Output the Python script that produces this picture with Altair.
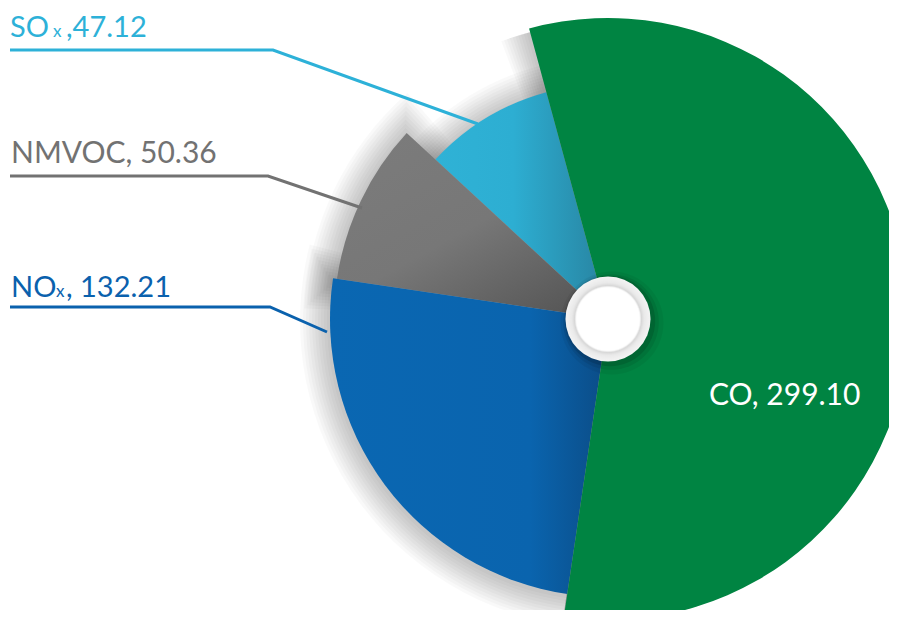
import math
import altair as alt
import pandas as pd

# ---------------- data ----------------
categories = ["CO", "NOx", "NMVOC", "SOx"]
values = [299.10, 132.21, 50.36, 47.12]
slice_order = [0, 1, 2, 3]

# ---------------- style / layout ----------------
W, H = 881, 602
CX, CY = 600, 311
START = -math.radians(15.2)
RADIUS = {"CO": 301, "NOx": 278, "NMVOC": 274, "SOx": 235}
FONT = "Lato"
FS = 29


def lin(stops, x1=0, y1=0, x2=1, y2=0):
    return {"gradient": "linear", "x1": x1, "y1": y1, "x2": x2, "y2": y2,
            "stops": [{"offset": o, "color": c} for o, c in stops]}


FILLS = {
    "CO": "#008442",
    "NOx": lin([(0, "#0A67B2"), (0.72, "#0A64AE"), (1, "#0B4C86")]),
    "NMVOC": lin([(0, "#7C7C7C"), (0.55, "#777777"), (1, "#575757")], 0, 0, 0.8, 1),
    "SOx": lin([(0, "#2FB2D6"), (0.45, "#2DAED2"), (1, "#2883A0")]),
}
LABEL_COLORS = {"SOx": "#2DB1D8", "NMVOC": "#727272", "NOx": "#0A61AD"}

df = pd.DataFrame({"category": categories, "value": values, "order": slice_order})

theta_scale = alt.Scale(domain=[0, 1], range=[START, START + 2 * math.pi])

base = (
    alt.Chart(df)
    .transform_joinaggregate(total="sum(value)")
    .transform_window(cum="sum(value)", sort=[alt.SortField("order")], frame=[None, 0])
    .transform_calculate(
        t0="(datum.cum - datum.value) / datum.total",
        t1="datum.cum / datum.total",
    )
)

layers = []

# soft drop shadows behind the slices
for cat in ["SOx", "NMVOC", "NOx", "CO"]:
    r = RADIUS[cat]
    for k in range(2, 30, 3):
        d = k / (r * 2 * math.pi)
        if cat == "CO":
            # CO only casts its shadow past its leading (upper-left) edge
            s1_expr = "datum.t1"
            rad = r - 2
        else:
            s1_expr = f"datum.t1 + {d}"
            rad = r + k
        layers.append(
            base.transform_filter(alt.datum.category == cat)
            .transform_calculate(s0=f"datum.t0 - {d}", s1=s1_expr)
            .mark_arc(fill="#000000", fillOpacity=0.022, stroke=None)
            .encode(
                theta=alt.Theta("s0:Q", scale=theta_scale),
                theta2="s1:Q",
                radius=alt.value(rad),
                x=alt.value(CX - 1), y=alt.value(CY + 2),
            )
        )

# slices
for cat in ["SOx", "NMVOC", "NOx", "CO"]:
    layers.append(
        base.transform_filter(alt.datum.category == cat)
        .mark_arc(fill=FILLS[cat], stroke=None)
        .encode(
            theta=alt.Theta("t0:Q", scale=theta_scale),
            theta2="t1:Q",
            radius=alt.value(RADIUS[cat]),
            x=alt.value(CX), y=alt.value(CY),
            tooltip=["category:N", "value:Q"],
        )
    )

# centre hole
one = pd.DataFrame({"k": [0]})
for rr, op, off in [(58, 0.05, 4), (54, 0.08, 3), (51, 0.12, 2)]:
    layers.append(
        alt.Chart(one).mark_circle(fill="#000000", opacity=op, stroke=None)
        .encode(x=alt.value(CX + off), y=alt.value(CY + off), size=alt.value(math.pi * rr * rr))
    )
ring = {"gradient": "radial", "x1": 0.5, "y1": 0.5, "x2": 0.5, "y2": 0.5, "r1": 0, "r2": 0.5,
        "stops": [{"offset": 0, "color": "#FFFFFF"}, {"offset": 0.75, "color": "#FFFFFF"},
                  {"offset": 0.78, "color": "#D6D6D6"}, {"offset": 0.85, "color": "#E9E9E9"},
                  {"offset": 1, "color": "#F4F4F4"}]}
layers.append(
    alt.Chart(one).mark_circle(fill=ring, opacity=1, stroke=None)
    .encode(x=alt.value(CX), y=alt.value(CY), size=alt.value(math.pi * 48 * 48))
)

# leader lines (annotation layout)
lines = pd.DataFrame({
    "series": ["SOx"] * 3 + ["NMVOC"] * 3 + ["NOx"] * 3,
    "x": [2, 265, 470, 2, 260, 354, 2, 262, 319],
    "y": [42, 42, 116, 168, 168, 200, 299, 299, 324],
    "o": [0, 1, 2] * 3,
})
layers.append(
    alt.Chart(lines).mark_line(strokeWidth=3)
    .encode(
        x=alt.X("x:Q", scale=None), y=alt.Y("y:Q", scale=None), order="o:Q",
        detail="series:N",
        color=alt.Color("series:N", scale=alt.Scale(domain=list(LABEL_COLORS),
                                                    range=list(LABEL_COLORS.values())), legend=None),
    )
)

# labels (text pieces, subscripts as separate smaller text)
v = dict(zip(categories, values))
labels = pd.DataFrame([
    {"t": "SO", "x": 2, "y": 29, "s": FS, "c": LABEL_COLORS["SOx"]},
    {"t": "x", "x": 45, "y": 29, "s": 17, "c": LABEL_COLORS["SOx"]},
    {"t": f",{v['SOx']:.2f}", "x": 58, "y": 29, "s": FS, "c": LABEL_COLORS["SOx"]},
    {"t": f"NMVOC, {v['NMVOC']:.2f}", "x": 3, "y": 155, "s": 30, "c": LABEL_COLORS["NMVOC"]},
    {"t": "NO", "x": 3, "y": 289, "s": FS, "c": LABEL_COLORS["NOx"]},
    {"t": "x", "x": 48, "y": 289, "s": 17, "c": LABEL_COLORS["NOx"]},
    {"t": f", {v['NOx']:.2f}", "x": 58, "y": 289, "s": FS, "c": LABEL_COLORS["NOx"]},
    {"t": f"CO, {v['CO']:.2f}", "x": 701, "y": 397, "s": 30, "c": "#FFFFFF"},
])
layers.append(
    alt.Chart(labels).mark_text(align="left", baseline="alphabetic", font=FONT)
    .encode(
        x=alt.X("x:Q", scale=None), y=alt.Y("y:Q", scale=None),
        text="t:N", size=alt.Size("s:Q", scale=None), color=alt.Color("c:N", scale=None),
    )
)

chart = (
    alt.layer(*layers)
    .properties(width=W, height=H, autosize=alt.AutoSizeParams(type="none"), padding=0,
                background="#FFFFFF")
    .configure_view(stroke=None)
)

chart.save("out.html", embed_options={"renderer": "svg", "actions": False})
